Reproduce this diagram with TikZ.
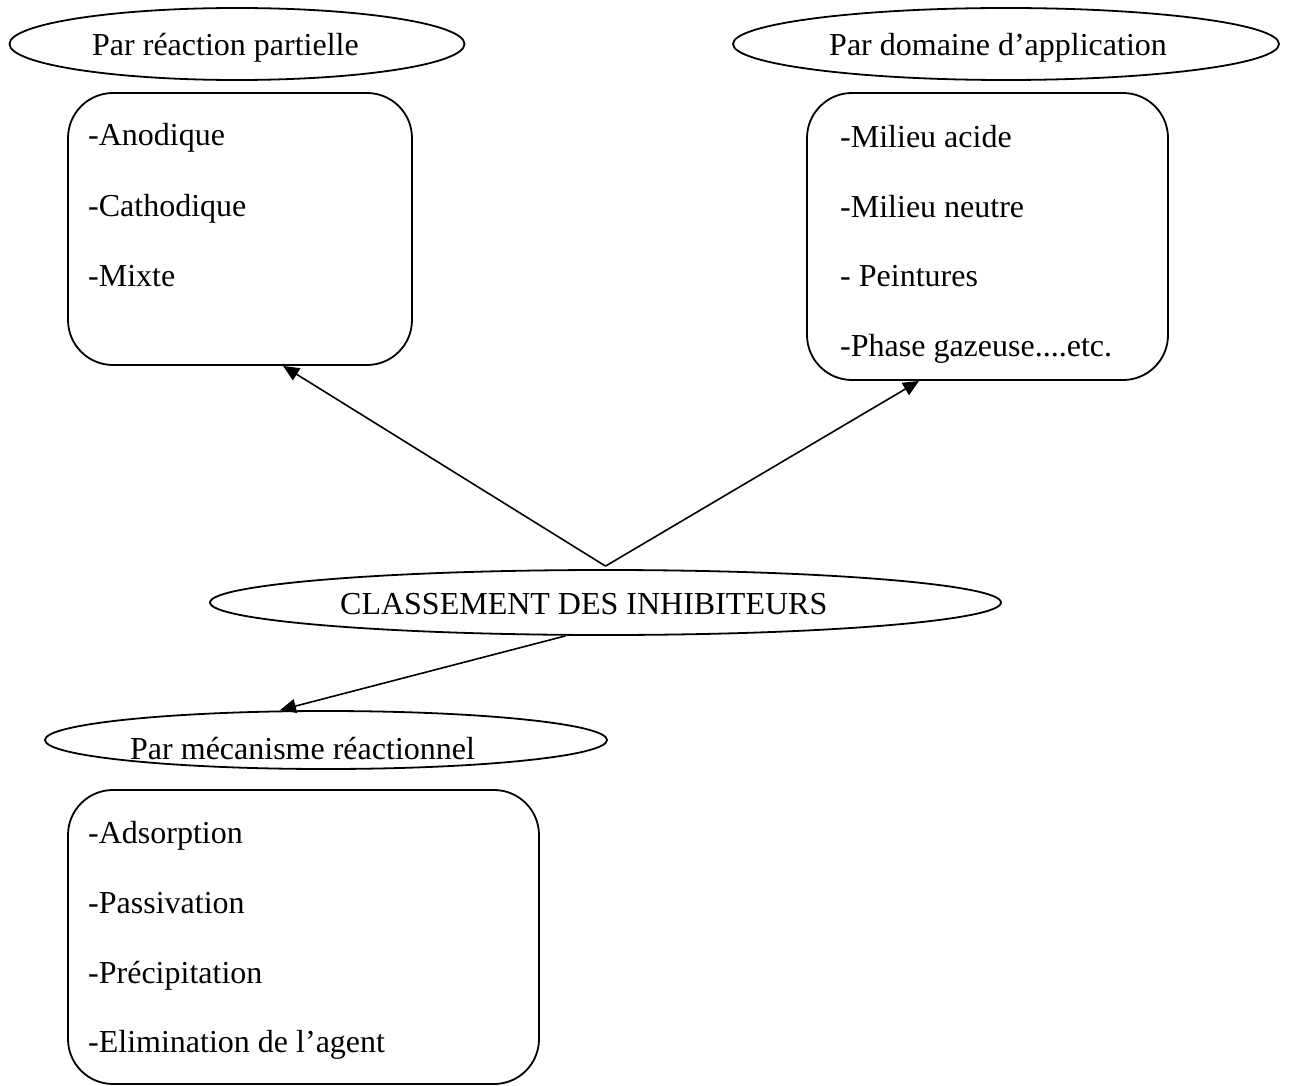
\documentclass[tikz,border=0pt]{standalone}
\usepackage{fontspec}
\setmainfont{Liberation Serif}
\usetikzlibrary{shapes.geometric,arrows.meta}
\begin{document}
\begin{tikzpicture}[x=1pt,y=-1pt,
  oval/.style={draw,ellipse,line width=1.8pt,inner sep=0pt},
  rbox/.style={draw,rectangle,rounded corners=45pt,line width=1.8pt,inner sep=0pt},
  txt/.style={anchor=base west,inner sep=0pt,font=\fontsize{32}{38}\selectfont},
  conn/.style={line width=1.6pt,-{Triangle[length=16pt,width=14pt]}}]
\useasboundingbox (0,0) rectangle (1292,1086);
% ellipses
\node[oval,minimum width=455pt,minimum height=72pt] (e1) at (237,44) {};
\node[oval,minimum width=546pt,minimum height=72pt] (e2) at (1006,44) {};
\node[oval,minimum width=791pt,minimum height=65pt] (c) at (605.5,602.5) {};
\node[oval,minimum width=562pt,minimum height=58pt] (e3) at (326,740) {};
% boxes
\node[rbox,minimum width=344pt,minimum height=272pt] (b1) at (240,229) {};
\node[rbox,minimum width=361pt,minimum height=287pt] (b2) at (987.5,236.5) {};
\node[rbox,minimum width=471pt,minimum height=294pt] (b3) at (303.5,937) {};
% ellipse texts
\node[txt] (t1) at (92,56) {Par réaction partielle};
\node[txt] (t2) at (829,56) {Par domaine d’application};
\node[txt] (tc) at (340,614) {CLASSEMENT DES INHIBITEURS};
\node[txt] (t3) at (130,759) {Par mécanisme réactionnel};
% box 1
\node[txt] (l11) at (88,146) {-Anodique};
\node[txt] (l12) at (88,216) {-Cathodique};
\node[txt] (l13) at (88,286) {-Mixte};
% box 2
\node[txt] (l21) at (840,148) {-Milieu acide};
\node[txt] (l22) at (840,218) {-Milieu neutre};
\node[txt] (l23) at (840,286) {- Peintures};
\node[txt] (l24) at (840,356) {-Phase gazeuse....etc.};
% box 3
\node[txt] (l31) at (88,843) {-Adsorption};
\node[txt] (l32) at (88,913) {-Passivation};
\node[txt] (l33) at (88,983) {-Précipitation};
\node[txt] (l34) at (88,1052) {-Elimination de l’agent};
% connectors
\draw[conn] ([yshift=3pt]c.north) -- ([xshift=216pt]b1.south west);
\draw[conn] ([yshift=3pt]c.north) -- ([xshift=113pt]b2.south west);
\draw[conn] ([xshift=-40pt]c.south) -- ([xshift=-46pt]e3.north);
\end{tikzpicture}
\end{document}
